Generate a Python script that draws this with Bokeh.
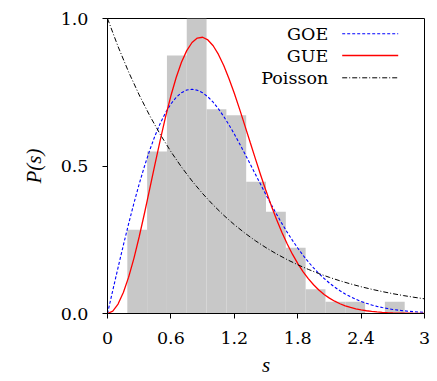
from bokeh.plotting import figure
from bokeh.models import Range1d, FixedTicker
from bokeh.embed import file_html
from bokeh.resources import INLINE
from bokeh.core.properties import value

# ---------------- data ----------------
bin_edges = [0.0, 0.1875, 0.375, 0.5625, 0.75, 0.9375, 1.125, 1.3125, 1.5,
             1.6875, 1.875, 2.0625, 2.25, 2.4375, 2.625, 2.8125, 3.0]
hist_heights = [0.0, 0.284, 0.549, 0.875, 1.0, 0.692, 0.672, 0.447, 0.345,
                0.223, 0.082, 0.040, 0.040, 0.0, 0.040, 0.0]

s_curve = [0.00, 0.05, 0.10, 0.15, 0.20, 0.25, 0.30, 0.35, 0.40, 0.45,
           0.50, 0.55, 0.60, 0.65, 0.70, 0.75, 0.80, 0.85, 0.90, 0.95,
           1.00, 1.05, 1.10, 1.15, 1.20, 1.25, 1.30, 1.35, 1.40, 1.45,
           1.50, 1.55, 1.60, 1.65, 1.70, 1.75, 1.80, 1.85, 1.90, 1.95,
           2.00, 2.05, 2.10, 2.15, 2.20, 2.25, 2.30, 2.35, 2.40, 2.45,
           2.50, 2.55, 2.60, 2.65, 2.70, 2.75, 2.80, 2.85, 2.90, 2.95, 3.00]
goe = [0.0, 0.0784, 0.1559, 0.2315, 0.3044, 0.3739, 0.4391, 0.4993, 0.5541, 0.6029,
       0.6454, 0.6812, 0.7104, 0.7327, 0.7483, 0.7574, 0.7602, 0.7570, 0.7483, 0.7345,
       0.7162, 0.6938, 0.6680, 0.6393, 0.6083, 0.5755, 0.5415, 0.5068, 0.4718, 0.4369,
       0.4025, 0.3690, 0.3366, 0.3054, 0.2759, 0.2480, 0.2219, 0.1976, 0.1752, 0.1546,
       0.1358, 0.1187, 0.1033, 0.0895, 0.0772, 0.0663, 0.0567, 0.0482, 0.0409, 0.0345,
       0.0290, 0.0242, 0.0202, 0.0168, 0.0138, 0.0114, 0.0093, 0.0076, 0.0062, 0.0050, 0.0040]
gue = [0.0, 0.0081, 0.0320, 0.0709, 0.1233, 0.1871, 0.2602, 0.3398, 0.4232, 0.5073,
       0.5896, 0.6673, 0.7380, 0.7999, 0.8514, 0.8911, 0.9186, 0.9337, 0.9364, 0.9273,
       0.9076, 0.8781, 0.8405, 0.7960, 0.7465, 0.6929, 0.6370, 0.5804, 0.5240, 0.4688,
       0.4158, 0.3656, 0.3188, 0.2757, 0.2364, 0.2011, 0.1698, 0.1421, 0.1181, 0.0973,
       0.0796, 0.0647, 0.0521, 0.0417, 0.0331, 0.0260, 0.0204, 0.0158, 0.0122, 0.0093,
       0.0071, 0.0054, 0.0040, 0.0030, 0.0022, 0.0016, 0.0012, 0.0009, 0.0006, 0.0004, 0.0003]
s_poisson = [0.0, 0.1, 0.2, 0.3, 0.4, 0.5, 0.6, 0.7, 0.8, 0.9, 1.0, 1.1, 1.2, 1.3, 1.4, 1.5,
             1.6, 1.7, 1.8, 1.9, 2.0, 2.1, 2.2, 2.3, 2.4, 2.5, 2.6, 2.7, 2.8, 2.9, 3.0]
poisson = [1.0, 0.9048, 0.8187, 0.7408, 0.6703, 0.6065, 0.5488, 0.4966, 0.4493, 0.4066,
           0.3679, 0.3329, 0.3012, 0.2725, 0.2466, 0.2231, 0.2019, 0.1827, 0.1653, 0.1496,
           0.1353, 0.1225, 0.1108, 0.1003, 0.0907, 0.0821, 0.0743, 0.0672, 0.0608, 0.0550, 0.0498]

x_ticks = [0, 0.6, 1.2, 1.8, 2.4, 3]
x_tick_labels = ["0", "0.6", "1.2", "1.8", "2.4", "3"]
y_ticks = [0.0, 0.5, 1.0]
y_tick_labels = ["0.0", "0.5", "1.0"]
legend_labels = ["GOE", "GUE", "Poisson"]

# ---------------- styling ----------------
FONT_TICK = "DejaVu Serif"
FONT_LABEL = "Liberation Serif"
FONT_LEG = "DejaVu Serif"
FS_TICK = "17.5px"
FS_LABEL = "21px"
FS_LEG = "17.5px"
FW, FH = 317, 295
c_goe, c_gue, c_poi = "#0000ff", "#ff0000", "#000000"

p = figure(frame_width=FW, frame_height=FH,
           x_range=Range1d(0, 3), y_range=Range1d(0, 1),
           output_backend="svg", toolbar_location=None,
           min_border_left=107, min_border_right=9,
           min_border_top=18, min_border_bottom=56)
p.background_fill_color = "white"
p.border_fill_color = "white"
p.outline_line_color = "black"
p.outline_line_width = 1
p.xgrid.visible = False
p.ygrid.visible = False

# histogram
p.quad(left=bin_edges[:-1], right=bin_edges[1:], bottom=0, top=hist_heights,
       fill_color="#c8c8c8", line_color=None)

# curves
p.line(s_curve, goe, line_color=c_goe, line_width=1.1, line_dash="3 2")
p.line(s_curve, gue, line_color=c_gue, line_width=1.3)
p.line(s_poisson, poisson, line_color=c_poi, line_width=1, line_dash="5 2 1 2")

# axes
for ax in (p.xaxis[0], p.yaxis[0]):
    ax.major_label_text_font = FONT_TICK
    ax.major_label_text_font_size = FS_TICK
    ax.major_label_text_color = "black"
    ax.axis_label_text_font = FONT_LABEL
    ax.axis_label_text_font_size = FS_LABEL
    ax.axis_label_text_font_style = "italic"
    ax.axis_label_text_color = "black"
    ax.axis_line_color = "black"
    ax.major_tick_line_color = "black"
    ax.major_tick_in = 0
    ax.major_tick_out = 5
    ax.minor_tick_line_color = None

p.xaxis.ticker = FixedTicker(ticks=x_ticks)
p.xaxis.major_label_overrides = dict(zip(x_ticks, x_tick_labels))
p.xaxis.axis_label = "s"
p.xaxis.major_label_standoff = 13
p.xaxis.axis_label_standoff = 6

p.yaxis.ticker = FixedTicker(ticks=y_ticks)
p.yaxis.major_label_overrides = dict(zip(y_ticks, y_tick_labels))
p.yaxis.axis_label = "P(s)"
p.yaxis.major_label_standoff = 14
p.yaxis.axis_label_standoff = 12

# legend (labels right-aligned, samples to the right), in frame-pixel coordinates
p.extra_x_ranges = {"px": Range1d(0, FW)}
p.extra_y_ranges = {"px": Range1d(0, FH)}
leg_y = [279.7, 258.0, 235.7]
leg_text_x = [220.7] * 3
leg_x0 = [234.7] * 3
leg_x1 = [290.7] * 3
p.text(x=leg_text_x, y=leg_y, text=legend_labels,
       text_font=value(FONT_LEG), text_font_size=FS_LEG, text_color="black",
       text_align="right", text_baseline="middle",
       x_range_name="px", y_range_name="px")
p.line([leg_x0[0], leg_x1[0]], [leg_y[0], leg_y[0]], line_color=c_goe,
       line_dash="3 2", line_width=1.1, x_range_name="px", y_range_name="px")
p.line([leg_x0[1], leg_x1[1]], [leg_y[1], leg_y[1]], line_color=c_gue,
       line_width=1.3, x_range_name="px", y_range_name="px")
p.line([leg_x0[2], leg_x1[2]], [leg_y[2], leg_y[2]], line_color=c_poi,
       line_dash="5 2 1 2", line_width=1, x_range_name="px", y_range_name="px")

open("out.html", "w").write(file_html(p, INLINE))
